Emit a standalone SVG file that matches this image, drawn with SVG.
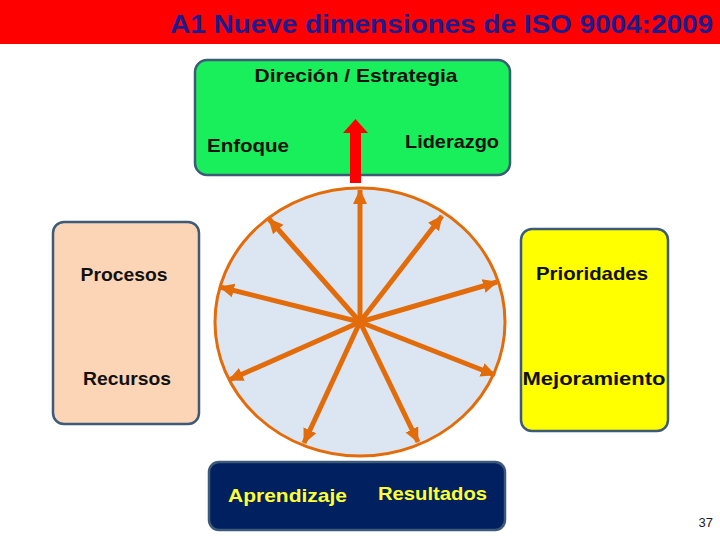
<svg xmlns="http://www.w3.org/2000/svg" width="720" height="540" viewBox="0 0 720 540">
<style>
.t{font-family:"Liberation Sans",Arial,sans-serif;font-weight:bold;font-size:19px;fill:#111;}
.y{fill:#ffff33;}
.box{stroke:#3d5a78;stroke-width:2.5;}
.spoke{stroke:#e36c0a;stroke-width:5;fill:none;marker-end:url(#ah);}
</style>
<defs>
<marker id="ah" markerUnits="userSpaceOnUse" markerWidth="16" markerHeight="16" refX="14" refY="8" orient="auto">
<path d="M0,1 L15,8 L0,15 Z" fill="#e36c0a"/>
</marker>
</defs>
<rect x="0" y="0" width="720" height="540" fill="#ffffff"/>
<g id="title">
<rect x="0" y="0" width="720" height="44" fill="#ff0000"/>
<text x="713" y="33" text-anchor="end" font-family="Liberation Sans, Arial, sans-serif" font-weight="bold" font-size="26" fill="#1c1c8f" textLength="543" lengthAdjust="spacingAndGlyphs">A1 Nueve dimensiones de ISO 9004:2009</text>
</g>
<g id="direccion">
<rect class="box" x="195" y="60" width="315" height="115" rx="12" fill="#18ef5a"/>
<text class="t" x="356" y="82" text-anchor="middle" textLength="203" lengthAdjust="spacingAndGlyphs">Direción / Estrategia</text>
<text class="t" x="207" y="152" textLength="82" lengthAdjust="spacingAndGlyphs">Enfoque</text>
<text class="t" x="405" y="148" textLength="94" lengthAdjust="spacingAndGlyphs">Liderazgo</text>
</g>
<g id="procesos">
<rect class="box" x="53" y="222" width="146" height="202" rx="11" fill="#fbd5b5"/>
<text class="t" x="124" y="281" text-anchor="middle" textLength="87" lengthAdjust="spacingAndGlyphs">Procesos</text>
<text class="t" x="127" y="385" text-anchor="middle" textLength="88" lengthAdjust="spacingAndGlyphs">Recursos</text>
</g>
<g id="prioridades">
<rect class="box" x="521" y="229" width="147" height="202" rx="11" fill="#ffff00"/>
<text class="t" x="592" y="280" text-anchor="middle" textLength="112" lengthAdjust="spacingAndGlyphs">Prioridades</text>
<text class="t" x="594" y="385" text-anchor="middle" textLength="143" lengthAdjust="spacingAndGlyphs">Mejoramiento</text>
</g>
<g id="resultados">
<rect class="box" x="209" y="462" width="296" height="68" rx="10" fill="#002060" stroke="#41719c"/>
<text class="t y" x="228" y="502" textLength="119" lengthAdjust="spacingAndGlyphs">Aprendizaje</text>
<text class="t y" x="378" y="500" textLength="109" lengthAdjust="spacingAndGlyphs">Resultados</text>
</g>
<g id="circulo">
<ellipse cx="360" cy="322" rx="145" ry="134" fill="#dce6f2" stroke="#e36c0a" stroke-width="3"/>
</g>
<g id="connectors">
<path d="M350,183 L350,133 L343,133 L355.5,119 L368,133 L361,133 L361,183 Z" fill="#ff0000"/>
<line class="spoke" x1="360" y1="322" x2="360" y2="190"/>
<line class="spoke" x1="360" y1="322" x2="442" y2="216"/>
<line class="spoke" x1="360" y1="322" x2="497" y2="282"/>
<line class="spoke" x1="360" y1="322" x2="495" y2="375"/>
<line class="spoke" x1="360" y1="322" x2="418" y2="442"/>
<line class="spoke" x1="360" y1="322" x2="304" y2="443"/>
<line class="spoke" x1="360" y1="322" x2="229" y2="380"/>
<line class="spoke" x1="360" y1="322" x2="220" y2="287"/>
<line class="spoke" x1="360" y1="322" x2="269" y2="219"/>
</g>
<text x="713" y="527" text-anchor="end" font-family="Liberation Sans, Arial, sans-serif" font-size="13" fill="#222">37</text>
</svg>
